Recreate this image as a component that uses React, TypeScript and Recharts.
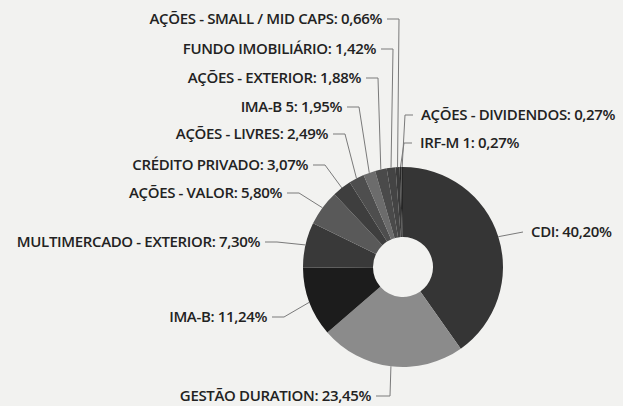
import React from 'react';
import { PieChart, Pie, Cell } from 'recharts';

const categories = [
  'CDI',
  'GESTÃO DURATION',
  'IMA-B',
  'MULTIMERCADO - EXTERIOR',
  'AÇÕES - VALOR',
  'CRÉDITO PRIVADO',
  'AÇÕES - LIVRES',
  'IMA-B 5',
  'AÇÕES - EXTERIOR',
  'FUNDO IMOBILIÁRIO',
  'AÇÕES - SMALL / MID CAPS',
  'IRF-M 1',
  'AÇÕES - DIVIDENDOS',
];
const values = [40.2, 23.45, 11.24, 7.3, 5.8, 3.07, 2.49, 1.95, 1.88, 1.42, 0.66, 0.27, 0.27];

const colors = [
  '#353535', '#8b8b8b', '#1c1c1c', '#393939', '#595959', '#3e3e3e',
  '#4e4e4e', '#6c6c6c', '#4a4a4a', '#444444', '#3a3a3a', '#2a2a2a', '#262626',
];

// label elbow positions relative to the pie centre (layout only)
const labelLayout: { dx: number; dy: number; side: 'L' | 'R'; tick: number }[] = [
  { dx: 120, dy: -35, side: 'R', tick: 0 },
  { dx: -13, dy: 129, side: 'L', tick: 14 },
  { dx: -119, dy: 50, side: 'L', tick: 12 },
  { dx: -126, dy: -25, side: 'L', tick: 12 },
  { dx: -104, dy: -74, side: 'L', tick: 12 },
  { dx: -78, dy: -102, side: 'L', tick: 12 },
  { dx: -58, dy: -133, side: 'L', tick: 12 },
  { dx: -44, dy: -160, side: 'L', tick: 12 },
  { dx: -25, dy: -189, side: 'L', tick: 12 },
  { dx: -10, dy: -218, side: 'L', tick: 12 },
  { dx: -4, dy: -248, side: 'L', tick: 12 },
  { dx: 1, dy: -124, side: 'R', tick: 8 },
  { dx: 2, dy: -152, side: 'R', tick: 8 },
];

const data = categories.map((name, i) => ({ name, value: values[i] }));

const RAD = Math.PI / 180;

const fmt = (v: number) => v.toFixed(2).replace('.', ',') + '%';

const renderLabel = (props: any) => {
  const { cx, cy, midAngle, outerRadius, index, name, value } = props;
  const lay = labelLayout[index];
  const px = cx + outerRadius * Math.cos(-midAngle * RAD);
  const py = cy + outerRadius * Math.sin(-midAngle * RAD);
  const ex = cx + lay.dx;
  const ey = cy + lay.dy;
  const dir = lay.side === 'L' ? -1 : 1;
  const tx = ex + dir * lay.tick;
  const textX = tx + dir * (lay.side === 'L' ? 5 : 8);
  return (
    <g key={`lbl-${index}`}>
      <polyline
        points={`${px},${py} ${ex},${ey} ${tx},${ey}`}
        fill="none"
        stroke="#7a7a7a"
        strokeWidth={1}
      />
      <text
        x={textX}
        y={ey + 5}
        textAnchor={lay.side === 'L' ? 'end' : 'start'}
        fill="#222222"
        fontSize={15}
        fontFamily="'Open Sans', sans-serif"
        fontWeight={600}
        letterSpacing={-0.35}
      >
        {`${name}: ${fmt(value)}`}
      </text>
    </g>
  );
};

export default function App() {
  return (
    <div
      style={{
        position: 'absolute',
        left: 0,
        top: 0,
        width: 623,
        height: 406,
        background: '#f2f2f0',
        overflow: 'hidden',
      }}
    >
      <PieChart width={623} height={406} margin={{ top: 0, right: 0, bottom: 0, left: 0 }}>
        <Pie
          data={data}
          dataKey="value"
          nameKey="name"
          cx={403}
          cy={267}
          innerRadius={30}
          outerRadius={100}
          startAngle={90}
          endAngle={-270}
          stroke="none"
          label={renderLabel}
          labelLine={false}
          isAnimationActive={false}
        >
          {data.map((d, i) => (
            <Cell key={d.name} fill={colors[i]} />
          ))}
        </Pie>
      </PieChart>
    </div>
  );
}
